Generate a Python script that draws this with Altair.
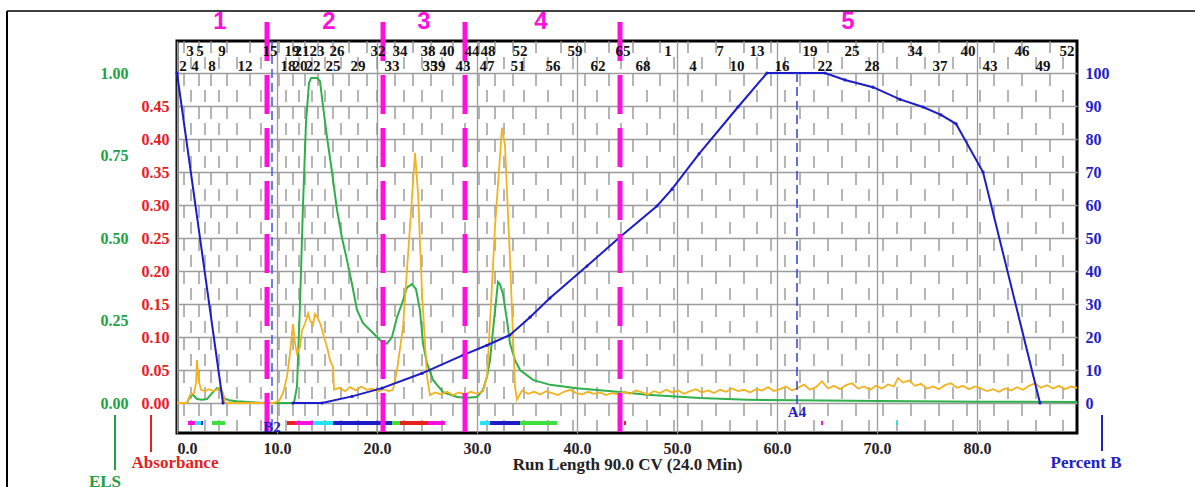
import altair as alt
import pandas as pd

# ---------------- data ----------------
# ELS trace (green), run length in CV
els_x = [0, 1.0, 1.3, 1.6, 2.0, 2.5, 3.0, 3.5, 4.0, 4.4, 4.7, 5.2, 6.0, 7.5, 9.0, 11.7,
         12.0, 12.3, 12.6, 12.9, 13.2, 13.4, 14.0, 14.3, 14.6, 15.0, 15.5, 16.0, 16.5, 17.0,
         17.5, 18.0, 18.6, 19.6, 20.6, 21.0, 21.5, 22.0, 22.6, 23.0, 23.5, 23.9, 24.3, 24.6,
         25.0, 25.6, 26.6, 28.0, 29.0, 30.0, 30.6, 31.0, 31.3, 31.7, 32.1, 32.3, 32.6, 33.0,
         33.3, 33.8, 34.3, 35.6, 37.3, 40.0, 44.3, 47.0, 52.3, 57.0, 62.0, 70.0, 80.0, 90.0]
els_y = [0, 0, 0.02, 0.025, 0.012, 0.01, 0.012, 0.03, 0.045, 0.04, 0.015, 0.008, 0.005, 0.002, 0, 0,
         0.05, 0.3, 0.6, 0.85, 0.97, 0.985, 0.985, 0.975, 0.9, 0.806, 0.7, 0.585, 0.5, 0.433,
         0.36, 0.282, 0.242, 0.212, 0.182, 0.18, 0.2, 0.26, 0.31, 0.35, 0.36, 0.345, 0.28, 0.18,
         0.12, 0.07, 0.033, 0.018, 0.016, 0.018, 0.04, 0.08, 0.13, 0.25, 0.367, 0.36, 0.33, 0.25,
         0.18, 0.13, 0.1, 0.07, 0.055, 0.045, 0.033, 0.025, 0.015, 0.01, 0.008, 0.006, 0.004, 0.003]

# Absorbance trace (orange)
abs_x = [0, 1.0, 1.3, 1.7, 1.9, 2.0, 2.15, 2.4, 2.8, 3.2, 3.6, 4.0, 4.3, 4.6, 4.8, 5.0, 9.6,
         10.2, 10.6, 11.0, 11.3, 11.6, 11.8, 12.0, 12.3, 12.5, 12.8, 13.1, 13.3, 13.6, 13.8,
         14.1, 14.4, 14.7, 15.0, 15.3, 15.6, 15.7, 16.2, 16.8, 17.3, 17.9, 18.4, 19.0, 19.5,
         20.1, 20.6, 21.2, 21.6, 22.0, 22.6, 23.3, 23.8, 24.1, 24.5, 25.0, 25.3, 25.8, 26.4,
         27.0, 27.6, 28.2, 28.8, 29.4, 30.0, 30.6, 31.0, 31.4, 31.8, 32.5, 32.8, 33.3, 33.8,
         34.0, 34.5, 35.1, 35.7, 36.3, 36.9, 37.5, 38.1, 38.7, 39.3, 39.9, 40.5, 41.1, 41.7,
         42.3, 42.9, 43.5, 44.1, 44.7, 45.3, 45.9, 46.5, 47.1, 47.7, 48.3, 48.9, 49.5, 50.1,
         50.7, 51.3, 51.9, 52.5, 53.1, 53.7, 54.3, 54.9, 55.5, 56.1, 56.7, 57.3, 57.9, 58.5,
         59.1, 59.7, 60.3, 60.9, 61.5, 62.1, 62.7, 63.3, 63.9, 64.5, 65.1, 65.7, 66.3, 66.9,
         67.5, 68.1, 68.7, 69.3, 69.9, 70.5, 71.1, 71.7, 72.1, 72.6, 73.2, 73.8, 74.4, 75.0,
         75.6, 76.2, 76.8, 77.4, 78.0, 78.6, 79.2, 79.8, 80.4, 81.0, 81.6, 82.2, 82.8, 83.4,
         84.0, 84.6, 85.2, 85.8, 86.4, 87.0, 87.6, 88.2, 88.8, 89.4, 90.0]
abs_y = [0, 0, 0.012, 0.015, 0.03, 0.065, 0.035, 0.02, 0.018, 0.021, 0.018, 0.02, 0.024, 0.015, 0.002, 0, 0,
         0.003, 0.015, 0.04, 0.076, 0.12, 0.09, 0.075, 0.085, 0.11, 0.12, 0.136, 0.125, 0.118, 0.135,
         0.128, 0.117, 0.1, 0.085, 0.065, 0.055, 0.02, 0.023, 0.018, 0.024, 0.019, 0.025, 0.02, 0.022,
         0.017, 0.021, 0.018, 0.02, 0.05, 0.115, 0.267, 0.379, 0.318, 0.167, 0.04, 0.012, 0.016, 0.013,
         0.017, 0.012, 0.016, 0.013, 0.017, 0.014, 0.018, 0.04, 0.15, 0.267, 0.417, 0.39, 0.217, 0.024,
         0.005, 0.019, 0.014, 0.017, 0.013, 0.018, 0.015, 0.012, 0.017, 0.02, 0.015, 0.013, 0.017, 0.014,
         0.016, 0.012, 0.015, 0.013, 0.017, 0.014, 0.019, 0.016, 0.013, 0.018, 0.015, 0.02, 0.016, 0.019,
         0.014, 0.018, 0.021, 0.016, 0.019, 0.015, 0.02, 0.017, 0.022, 0.018, 0.02, 0.016, 0.021, 0.019,
         0.024, 0.018, 0.021, 0.025, 0.019, 0.023, 0.028, 0.02, 0.024, 0.033, 0.022, 0.026, 0.021, 0.027,
         0.03, 0.022, 0.025, 0.02, 0.026, 0.022, 0.028, 0.025, 0.038, 0.031, 0.034, 0.026, 0.029, 0.022,
         0.025, 0.021, 0.027, 0.03, 0.023, 0.026, 0.021, 0.025, 0.022, 0.018, 0.021, 0.017, 0.022, 0.019,
         0.024, 0.02, 0.026, 0.03, 0.023, 0.027, 0.022, 0.026, 0.021, 0.025, 0.023]

# Percent B gradient (blue), two drawn pieces
pb_x = [0, 4.6, 11.6, 14.5, 17.5, 20.5, 24.5, 28.6, 31.0, 33.3, 35.3, 37.3, 41.0, 44.3, 48.0,
        49.5, 52.2, 56.1, 59.0, 64.8, 66.8, 69.6, 72.3, 74.6, 76.4, 77.9, 80.6, 86.3]
pb_y = [100, 0, 0, 0, 2.0, 4.5, 9.0, 14.5, 17.5, 20.6, 26.0, 31.8, 41.5, 50.3, 59.7,
        64.8, 75.5, 89.7, 100, 100, 97.9, 95.7, 92.0, 89.7, 87.3, 84.6, 70.0, 0]
pb_piece = ["a", "a"] + ["b"] * 26

# Fraction pools (magenta)
pool_cuts = [9.0, 20.6, 28.8, 44.3]
pool_names = ["1", "2", "3", "4", "5"]
pool_name_x = [4.3, 15.2, 24.7, 36.4, 67.1]

# Tube numbers along the top (two rows)
tube_top = ["3", "5", "9", "15", "19", "21", "23", "26", "32", "34", "38", "40", "44", "48",
            "52", "59", "65", "1", "7", "13", "19", "25", "34", "40", "46", "52"]
tube_top_x = [1.3, 2.3, 4.5, 9.3, 11.5, 12.5, 14.0, 16.0, 20.1, 22.3, 25.1, 27.0, 29.5, 31.1,
              34.3, 39.8, 44.6, 49.1, 54.3, 58.0, 63.3, 67.5, 73.8, 79.1, 84.5, 89.0]
tube_bot = ["2", "4", "8", "12", "18", "20", "22", "25", "29", "33", "35", "39", "43", "47",
            "51", "56", "62", "68", "4", "10", "16", "22", "28", "37", "43", "49"]
tube_bot_x = [0.6, 1.8, 3.5, 6.8, 11.1, 12.3, 13.6, 15.6, 18.1, 21.5, 25.3, 26.1, 28.6, 31.0,
              34.1, 37.6, 42.1, 46.6, 51.6, 56.0, 60.5, 64.8, 69.5, 76.3, 81.3, 86.6]

# Tube boundaries (gray dashed lines), two staggered sets
tube_edge_a = [0.7, 2.2, 3.4, 5.0, 7.3, 10.2, 11.6, 12.8, 14.1, 15.6, 17.2, 19.0, 21.8, 23.6,
               25.4, 27.6, 30.2, 31.8, 33.6, 35.9, 38.4, 40.8, 43.2, 45.6, 48.3, 51.1, 53.9,
               56.7, 59.4, 62.3, 65.1, 67.9, 70.6, 73.4, 76.2, 79.0, 81.7, 84.5, 87.3]
tube_edge_b = [1.4, 2.8, 4.2, 6.0, 8.4, 10.9, 12.2, 13.5, 14.8, 16.4, 18.1, 20.0, 22.7, 24.5,
               26.5, 28.8, 31.0, 32.7, 34.7, 37.1, 39.6, 42.0, 44.4, 47.0, 49.7, 52.5, 55.3,
               58.0, 60.8, 63.7, 66.5, 69.2, 72.0, 74.8, 77.6, 80.3, 83.1, 85.9, 88.6]

# Collected-fraction bars in the lower band
band_start = [1.1, 1.8, 2.4, 3.5, 11.0, 11.8, 13.6, 15.6, 21.5, 22.3, 25.1, 30.3, 31.3, 34.3, 44.7, 64.4, 71.9]
band_end = [1.8, 2.4, 2.6, 4.8, 11.8, 13.6, 15.6, 21.5, 22.3, 25.1, 26.8, 31.3, 34.3, 38.0, 44.9, 64.6, 72.1]
band_kind = ["m", "c", "b", "g", "r", "m", "c", "b", "g", "r", "m", "c", "b", "g", "r", "m", "c"]

# Rack markers
rack_x = [9.5, 62.0]
rack_names = ["B2", "A4"]

# ---------------- styling ----------------
SERIF = "Liberation Serif"
SANS = "Liberation Sans"
GREEN = "#2fb04a"
GREEN_TXT = "#22a043"
ORANGE = "#f3b21f"
BLUE = "#1c1cc8"
BLUE_TXT = "#2222c0"
RED = "#e3211f"
MAGENTA = "#ff10dc"
GRID = "#9c9c9c"
W, H = 900, 392

xs = alt.Scale(domain=[0, 90], nice=False, zero=False)
x_axis = alt.Axis(values=[0, 10, 20, 30, 40, 50, 60, 70, 80], format=".1f", grid=True,
                  gridColor=GRID, gridWidth=1.3, ticks=False, domain=False,
                  labelFont=SERIF, labelFontWeight="bold", labelFontSize=16, labelColor="#222",
                  labelPadding=7, title="Run Length 90.0 CV (24.0 Min)", titleFont=SERIF,
                  titleFontSize=17, titleFontWeight="bold", titleColor="#222", titlePadding=0)


def X(field="x"):
    return alt.X(f"{field}:Q", scale=xs, axis=x_axis)


abs_scale = alt.Scale(domain=[-0.045454, 0.548485], nice=False, zero=False)
els_scale = alt.Scale(domain=[-0.090909, 1.096970], nice=False, zero=False)
pb_scale = alt.Scale(domain=[-9.0909, 109.6970], nice=False, zero=False)

abs_axis = alt.Axis(orient="left", values=[0, 0.05, 0.1, 0.15, 0.2, 0.25, 0.3, 0.35, 0.4, 0.45, 0.5],
                    format=".2f", labelExpr="datum.value > 0.47 ? '' : datum.label",
                    grid=True, gridColor=GRID, gridWidth=1.3, ticks=False, domain=False,
                    labelColor=RED, labelFont=SERIF, labelFontWeight="bold", labelFontSize=16,
                    labelPadding=8, title="")
els_axis = alt.Axis(orient="left", offset=41, values=[0, 0.25, 0.5, 0.75, 1.0], format=".2f",
                    grid=False, ticks=False, domain=False, labelColor=GREEN_TXT, labelFont=SERIF,
                    labelFontWeight="bold", labelFontSize=16, labelPadding=8, title="")
pb_axis = alt.Axis(orient="right", values=[0, 10, 20, 30, 40, 50, 60, 70, 80, 90, 100], format="d",
                   grid=False, ticks=False, domain=False, labelColor=BLUE_TXT, labelFont=SERIF,
                   labelFontWeight="bold", labelFontSize=16, labelPadding=8, title="")

one = pd.DataFrame({"k": [0]})

# ---------------- layers ----------------
edge_a = alt.Chart(pd.DataFrame({"x": tube_edge_a})).mark_rule(
    color="#8e8e8e", strokeWidth=1.3, strokeDash=[12, 21]).encode(
    x=X(), y=alt.value(0), y2=alt.value(H))
edge_b = alt.Chart(pd.DataFrame({"x": tube_edge_b})).mark_rule(
    color="#8e8e8e", strokeWidth=1.3, strokeDash=[12, 21], strokeDashOffset=17).encode(
    x=X(), y=alt.value(0), y2=alt.value(H))

band = alt.Chart(pd.DataFrame({"x": band_start, "x2": band_end, "kind": band_kind})).mark_rule(
    strokeWidth=4).encode(
    x=X(), x2="x2:Q", y=alt.value(382),
    color=alt.Color("kind:N", legend=None,
                    scale=alt.Scale(domain=["m", "c", "b", "g", "r"],
                                    range=[MAGENTA, "#22e4f2", "#1c1cc8", "#3ee03e", "#e8221c"])))

els_line = alt.Chart(pd.DataFrame({"x": els_x, "v": els_y})).mark_line(
    color=GREEN, strokeWidth=2).encode(
    x=X(), y=alt.Y("v:Q", scale=els_scale, axis=els_axis))

abs_line = alt.Chart(pd.DataFrame({"x": abs_x, "v": abs_y})).mark_line(
    color=ORANGE, strokeWidth=1.8).encode(
    x=X(), y=alt.Y("v:Q", scale=abs_scale, axis=abs_axis))

pb_line = alt.Chart(pd.DataFrame({"x": pb_x, "v": pb_y, "piece": pb_piece})).mark_line(
    color=BLUE, strokeWidth=2,
    point=alt.OverlayMarkDef(filled=True, size=10, color=BLUE)).encode(
    x=X(), y=alt.Y("v:Q", scale=pb_scale, axis=pb_axis), detail="piece:N")

rack_df = pd.DataFrame({"x": rack_x, "name": rack_names})
rack_b2 = alt.Chart(rack_df.iloc[[0]]).mark_rule(
    color="#4a5fe0", strokeWidth=1.6, strokeDash=[9, 5]).encode(
    x=X(), y=alt.value(0), y2=alt.value(H))
rack_a4 = alt.Chart(rack_df.iloc[[1]]).mark_rule(
    color="#3a4fd8", strokeWidth=1.6, strokeDash=[9, 5]).encode(
    x=X(), y=alt.value(32), y2=alt.value(364))
rack_b2_txt = alt.Chart(rack_df.iloc[[0]]).mark_text(
    font=SERIF, fontWeight="bold", fontSize=15, color=BLUE_TXT, baseline="middle").encode(
    x=X(), y=alt.value(386), text="name:N")
rack_a4_txt = alt.Chart(rack_df.iloc[[1]]).mark_text(
    font=SERIF, fontWeight="bold", fontSize=15, color=BLUE_TXT, baseline="middle").encode(
    x=X(), y=alt.value(371), text="name:N")

pools = alt.Chart(pd.DataFrame({"x": pool_cuts})).mark_rule(
    color=MAGENTA, strokeWidth=5, strokeDash=[39, 14]).encode(
    x=X(), y=alt.value(-19), y2=alt.value(H + 2))
pool_txt = alt.Chart(pd.DataFrame({"x": pool_name_x, "name": pool_names})).mark_text(
    font=SANS, fontWeight="bold", fontSize=24, color=MAGENTA, baseline="middle").encode(
    x=X(), y=alt.value(-19), text="name:N")

top_txt = alt.Chart(pd.DataFrame({"x": tube_top_x, "name": tube_top})).mark_text(
    font=SERIF, fontWeight="bold", fontSize=15, color="#111", baseline="middle").encode(
    x=X(), y=alt.value(10), text="name:N")
bot_txt = alt.Chart(pd.DataFrame({"x": tube_bot_x, "name": tube_bot})).mark_text(
    font=SERIF, fontWeight="bold", fontSize=15, color="#111", baseline="middle").encode(
    x=X(), y=alt.value(25), text="name:N")

# axis name tags with their little colour bars, below the plot
abs_tag = alt.Chart(one).mark_text(font=SERIF, fontWeight="bold", fontSize=17, color=RED,
                                   baseline="middle", text="Absorbance").encode(
    x=alt.value(-2), y=alt.value(422))
abs_bar = alt.Chart(one).mark_rule(color=RED, strokeWidth=2).encode(
    x=alt.value(-26), y=alt.value(374), y2=alt.value(411))
els_tag = alt.Chart(one).mark_text(font=SERIF, fontWeight="bold", fontSize=17, color=GREEN_TXT,
                                   baseline="middle", text="ELS").encode(
    x=alt.value(-72), y=alt.value(441))
els_bar = alt.Chart(one).mark_rule(color=GREEN_TXT, strokeWidth=2).encode(
    x=alt.value(-62), y=alt.value(374), y2=alt.value(429))
pb_tag = alt.Chart(one).mark_text(font=SERIF, fontWeight="bold", fontSize=17, color=BLUE_TXT,
                                  baseline="middle", text="Percent B").encode(
    x=alt.value(909), y=alt.value(422))
pb_bar = alt.Chart(one).mark_rule(color=BLUE_TXT, strokeWidth=2).encode(
    x=alt.value(925), y=alt.value(374), y2=alt.value(410))

# page frame lines
frame_top = alt.Chart(one).mark_rule(color="black", strokeWidth=1.5).encode(
    x=alt.value(-170), x2=alt.value(1018), y=alt.value(-30))
frame_left = alt.Chart(one).mark_rule(color="black", strokeWidth=2).encode(
    x=alt.value(-170), y=alt.value(-30), y2=alt.value(446))

chart = alt.layer(
    edge_a, edge_b, band, els_line, abs_line, pb_line,
    rack_b2, rack_a4, pools, rack_b2_txt, rack_a4_txt, pool_txt, top_txt, bot_txt,
    abs_tag, abs_bar, els_tag, els_bar, pb_tag, pb_bar, frame_top, frame_left
).resolve_scale(y="independent").properties(
    width=W, height=H,
    autosize=alt.AutoSizeParams(type="none"),
    padding={"left": 177, "top": 41, "right": 118, "bottom": 54},
    background="white",
).configure_view(stroke="black", strokeWidth=3)

chart.save("out.html", embed_options={"renderer": "svg", "actions": False})
